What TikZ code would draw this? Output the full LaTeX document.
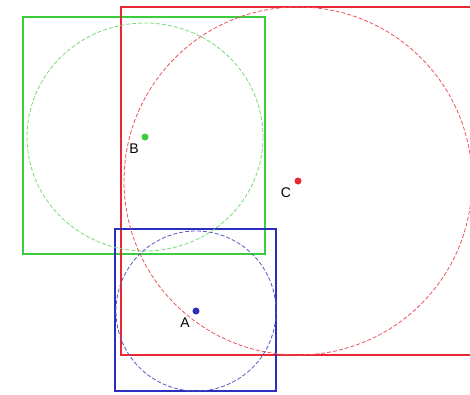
\documentclass[tikz,border=0pt]{standalone}
\usepackage{fontspec}
\setmainfont{Liberation Sans}
\usetikzlibrary{positioning}
\definecolor{sqgreen}{RGB}{60,205,60}
\definecolor{sqred}{RGB}{232,40,50}
\definecolor{sqblue}{RGB}{45,45,190}
\tikzset{
  box/.style={line width=1.6pt},
  ring/.style={dashed, line width=0.8pt, dash pattern=on 4pt off 2pt},
  dot/.style={circle, inner sep=0pt, minimum size=7pt},
  lbl/.style={font=\fontsize{14}{14}\selectfont, inner sep=0pt}
}

\begin{document}
\begin{tikzpicture}[x=1pt, y=-1pt]
\useasboundingbox (0,0) rectangle (470,394);
% centres
\node[dot, fill=sqgreen] (ptB) at (145,137) {};
\node[dot, fill=sqred] (ptC) at (298,181) {};
\node[dot, fill=sqblue] (ptA) at (196,311) {};
% labels
\node[lbl] (labB) at (134,149) {B};
\node[lbl] (labC) at (286,193) {C};
\node[lbl] (labA) at (185,323) {A};
% bounding squares
\draw[box, sqgreen] (23,17) rectangle (265,254);
\draw[box, sqred] (121,7) rectangle (474,355);
\draw[box, sqblue] (115,229) rectangle (276,391);
% circles
\draw[ring, sqgreen!70] (ptB) ellipse (118 and 114);
\draw[ring, sqred!80] (ptC) circle (174);
\draw[ring, sqblue!80] (ptA) circle (80);
\end{tikzpicture}
\end{document}
